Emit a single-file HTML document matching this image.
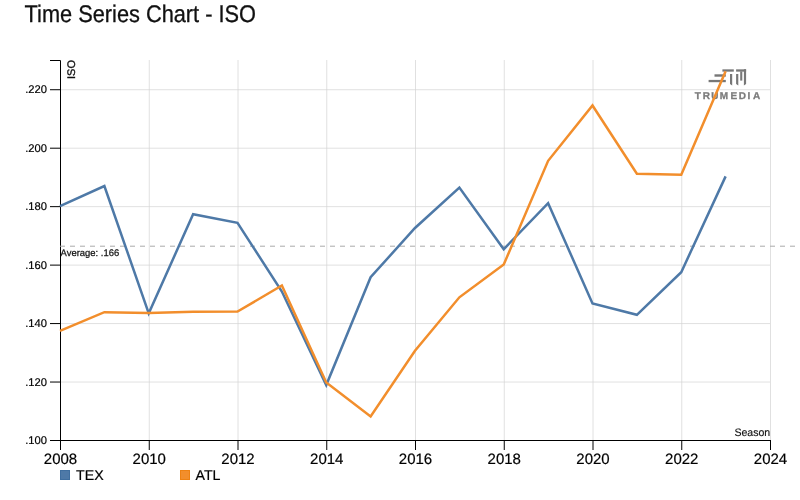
<!DOCTYPE html>
<html><head><meta charset="utf-8"><style>
html,body{margin:0;padding:0;background:#fff;}
body{width:800px;height:500px;overflow:hidden;position:relative;font-family:"Liberation Sans",sans-serif;}
svg{position:absolute;left:0;top:0;will-change:transform;}
.yl text,.xl text,.lg text{stroke:#000;stroke-width:0.2;}
</style></head><body>
<svg width="800" height="500" viewBox="0 0 800 500" font-family="Liberation Sans, sans-serif" text-rendering="geometricPrecision">
<text x="24.6" y="21.8" font-size="24" fill="#111" stroke="#111" stroke-width="0.3" textLength="231.4" lengthAdjust="spacingAndGlyphs">Time Series Chart - ISO</text>
<g transform="translate(60,60)">
<g stroke="#d3d3d3" stroke-opacity="0.7" stroke-width="1" fill="none">
<line x1="0" x2="710" y1="322.038" y2="322.038"/><line x1="0" x2="710" y1="263.577" y2="263.577"/><line x1="0" x2="710" y1="205.115" y2="205.115"/><line x1="0" x2="710" y1="146.654" y2="146.654"/><line x1="0" x2="710" y1="88.192" y2="88.192"/><line x1="0" x2="710" y1="29.731" y2="29.731"/><line x1="89.250" x2="89.250" y1="0" y2="380"/><line x1="178.000" x2="178.000" y1="0" y2="380"/><line x1="266.750" x2="266.750" y1="0" y2="380"/><line x1="355.500" x2="355.500" y1="0" y2="380"/><line x1="444.250" x2="444.250" y1="0" y2="380"/><line x1="533.000" x2="533.000" y1="0" y2="380"/><line x1="621.750" x2="621.750" y1="0" y2="380"/><line x1="710.500" x2="710.500" y1="0" y2="380"/>
</g>
<g class="yl" font-size="11.2" fill="#000" text-anchor="end">
<g transform="translate(0,380.500)"><line x2="-10" stroke="#000"/><text x="-13" dy="0.32em">.100</text></g><g transform="translate(0,322.038)"><line x2="-10" stroke="#000"/><text x="-13" dy="0.32em">.120</text></g><g transform="translate(0,263.577)"><line x2="-10" stroke="#000"/><text x="-13" dy="0.32em">.140</text></g><g transform="translate(0,205.115)"><line x2="-10" stroke="#000"/><text x="-13" dy="0.32em">.160</text></g><g transform="translate(0,146.654)"><line x2="-10" stroke="#000"/><text x="-13" dy="0.32em">.180</text></g><g transform="translate(0,88.192)"><line x2="-10" stroke="#000"/><text x="-13" dy="0.32em">.200</text></g><g transform="translate(0,29.731)"><line x2="-10" stroke="#000"/><text x="-13" dy="0.32em">.220</text></g>
</g>
<path d="M-10,0.5H0.5V380.5H-10" stroke="#000" fill="none"/>
<g class="xl" font-size="15" fill="#000" text-anchor="middle" transform="translate(0,380)">
<g transform="translate(0.500,0)"><line y2="10" stroke="#000"/><text y="23.6">2008</text></g><g transform="translate(89.250,0)"><line y2="10" stroke="#000"/><text y="23.6">2010</text></g><g transform="translate(178.000,0)"><line y2="10" stroke="#000"/><text y="23.6">2012</text></g><g transform="translate(266.750,0)"><line y2="10" stroke="#000"/><text y="23.6">2014</text></g><g transform="translate(355.500,0)"><line y2="10" stroke="#000"/><text y="23.6">2016</text></g><g transform="translate(444.250,0)"><line y2="10" stroke="#000"/><text y="23.6">2018</text></g><g transform="translate(533.000,0)"><line y2="10" stroke="#000"/><text y="23.6">2020</text></g><g transform="translate(621.750,0)"><line y2="10" stroke="#000"/><text y="23.6">2022</text></g><g transform="translate(710.500,0)"><line y2="10" stroke="#000"/><text y="23.6">2024</text></g>
<path d="M0.5,10V0.5H710.5V10" stroke="#000" fill="none"/>
</g>
<text transform="translate(15,0) rotate(-90)" text-anchor="end" font-size="11" fill="#111" stroke="#111" stroke-width="0.35">ISO</text>
<text x="674.4" y="375.6" font-size="10.8" fill="#111" stroke="#111" stroke-width="0.15" textLength="35.8" lengthAdjust="spacingAndGlyphs">Season</text>
<line x1="0" x2="735" y1="186.20" y2="186.20" stroke="#aaa" stroke-dasharray="5,5"/>
<text x="0.6" y="195.6" font-size="9.5" fill="#111" stroke="#111" stroke-width="0.25" textLength="58.6" lengthAdjust="spacingAndGlyphs">Average: .166</text>
<g fill="#777" transform="translate(-60,-60)">
<rect x="708.6" y="79.9" width="17.2" height="2.3"/>
<rect x="714.5" y="74.3" width="11.3" height="2.4"/>
<rect x="722.4" y="69.35" width="11.4" height="2.3"/>
<polygon points="730,73.9 732.2,73.9 732.2,85.4 730,84"/>
<polygon points="736.1,73.9 738.3,73.9 738.3,85.4 736.1,84"/>
<rect x="736.1" y="69.35" width="10" height="2.3"/>
<polygon points="743.9,69.35 746.1,69.35 746.1,84 743.9,85.4"/>
<rect x="740.2" y="71.4" width="2.1" height="9.2"/>
<text x="694.8 702.7 711.2 719.8 730.5 738.8 747.4 753" y="99" font-size="10" text-rendering="geometricPrecision" font-weight="bold" fill="#7b7b7b" stroke="#7b7b7b" stroke-width="0.3">TRUMEDIA</text>
</g>
<path d="M0.000,146.20L44.375,126.00L88.750,253.30L133.125,154.20L177.500,162.85L221.875,231.50L266.250,325.10L310.625,217.20L355.000,168.00L399.375,127.50L443.750,189.20L488.125,143.20L532.500,243.40L576.875,254.80L621.250,212.20L665.625,116.40" fill="none" stroke="#4e79a7" stroke-width="2.5"/>
<path d="M0.000,270.90L44.375,252.20L88.750,252.90L133.125,251.80L177.500,251.60L221.875,225.50L266.250,322.50L310.625,356.50L355.000,290.80L399.375,237.30L443.750,204.50L488.125,100.80L532.500,45.50L576.875,113.70L621.250,114.70L665.625,11.20" fill="none" stroke="#f28e2c" stroke-width="2.5"/>
</g>
<g class="lg" font-size="14.2" fill="#000">
<rect x="60.5" y="470.5" width="9" height="9" fill="#4e79a7" stroke="#3f6e9f"/>
<text x="76" y="480">TEX</text>
<rect x="180.5" y="470.5" width="9" height="9" fill="#f28e2c" stroke="#ee8212"/>
<text x="195.5" y="480">ATL</text>
</g>
</svg>
</body></html>
